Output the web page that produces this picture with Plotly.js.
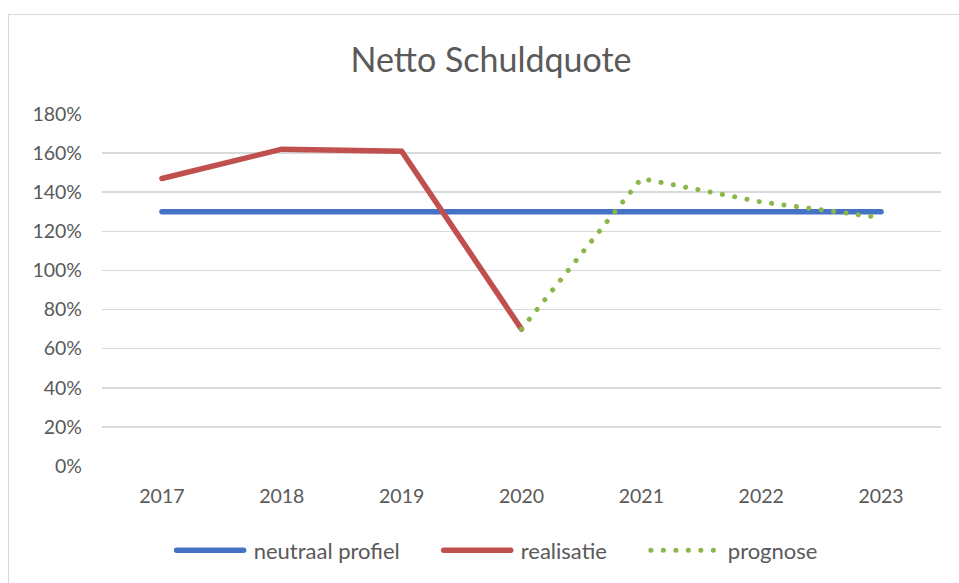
<!DOCTYPE html>
<html>
<head>
<meta charset="utf-8">
<script src="https://cdn.plot.ly/plotly-3.0.1.min.js"></script>
<style>
  html, body { margin: 0; padding: 0; background: #fff; }
  #wrap { position: relative; width: 959px; height: 583px; overflow: hidden; }
  #chart { width: 959px; height: 583px; }
  #frame { position: absolute; left: 8px; top: 14px; width: 1000px; height: 1000px;
           border: 1.5px solid #d9d9d9; pointer-events: none; }
  path.js-line { stroke-linecap: round; }
</style>
</head>
<body>
<div id="wrap">
  <div id="chart"></div>
  <div id="frame"></div>
</div>
<script>
const years = ['2017', '2018', '2019', '2020', '2021', '2022', '2023'];
const neutraalProfiel = [130, 130, 130, 130, 130, 130, 130];
const realisatie = [147, 162, 161, 70, null, null, null];
const prognose = [null, null, null, 70, 147, 135, 127];
const yTicks = [0, 20, 40, 60, 80, 100, 120, 140, 160, 180];

const font = "Lato, 'Open Sans', sans-serif";
const txt = '#595959';

const traces = [
  { x: years, y: neutraalProfiel, name: 'neutraal profiel', type: 'scatter', mode: 'lines',
    line: { color: '#4472c4', width: 5.5 } },
  { x: years, y: realisatie, name: 'realisatie', type: 'scatter', mode: 'lines',
    line: { color: '#c0504d', width: 5.5 } },
  { x: years, y: prognose, name: 'prognose', type: 'scatter', mode: 'lines',
    line: { color: '#8ab64a', width: 5, dash: '0.1px,12.4px' } }
];

const layout = {
  width: 959, height: 583,
  margin: { l: 102, r: 18, t: 114, b: 115 },
  paper_bgcolor: '#ffffff', plot_bgcolor: '#ffffff',
  font: { family: font, color: txt, size: 19.5 },
  title: { text: 'Netto Schuldquote', font: { family: font, size: 34, color: '#5a5a5a' },
           x: 0.512, xanchor: 'center', y: 0.897, yanchor: 'middle' },
  xaxis: { type: 'category', range: [-0.5, 6.5], showgrid: false, zeroline: false,
           showline: false, ticks: '', ticklabelstandoff: 16,
           tickfont: { family: font, size: 19.5, color: txt } },
  yaxis: { range: [0, 180], tickvals: yTicks, ticktext: yTicks.map(v => v + '%'),
           showgrid: true, gridcolor: '#d9d9d9', gridwidth: 1.5, zeroline: false,
           showline: false, ticks: '', ticklabelstandoff: 19,
           tickfont: { family: font, size: 19.5, color: txt } },
  showlegend: true,
  legend: { orientation: 'h', x: 0.083, xanchor: 'left', y: -0.240, yanchor: 'middle',
            font: { family: font, size: 22, color: txt }, itemwidth: 72,
            bgcolor: 'rgba(0,0,0,0)' },
  hovermode: false
};

const extraGap = 34;

Plotly.newPlot('chart', traces, layout, { displayModeBar: false, staticPlot: true }).then(function () {
  document.querySelectorAll('#chart .legend [clip-path]').forEach(function (el) {
    el.removeAttribute('clip-path');
  });
  document.querySelectorAll('#chart .legendlines path').forEach(function (p) {
    p.setAttribute('d', 'M5,0h67');
  });
  document.querySelectorAll('#chart .legend .traces').forEach(function (g, i) {
    const t = g.getAttribute('transform') || '';
    const m = t.match(/translate\(\s*([-\d.]+)[ ,]+([-\d.]+)\s*\)/);
    if (m) {
      g.setAttribute('transform', 'translate(' + (parseFloat(m[1]) + i * extraGap) + ',' + m[2] + ')');
    }
  });
});
</script>
</body>
</html>
